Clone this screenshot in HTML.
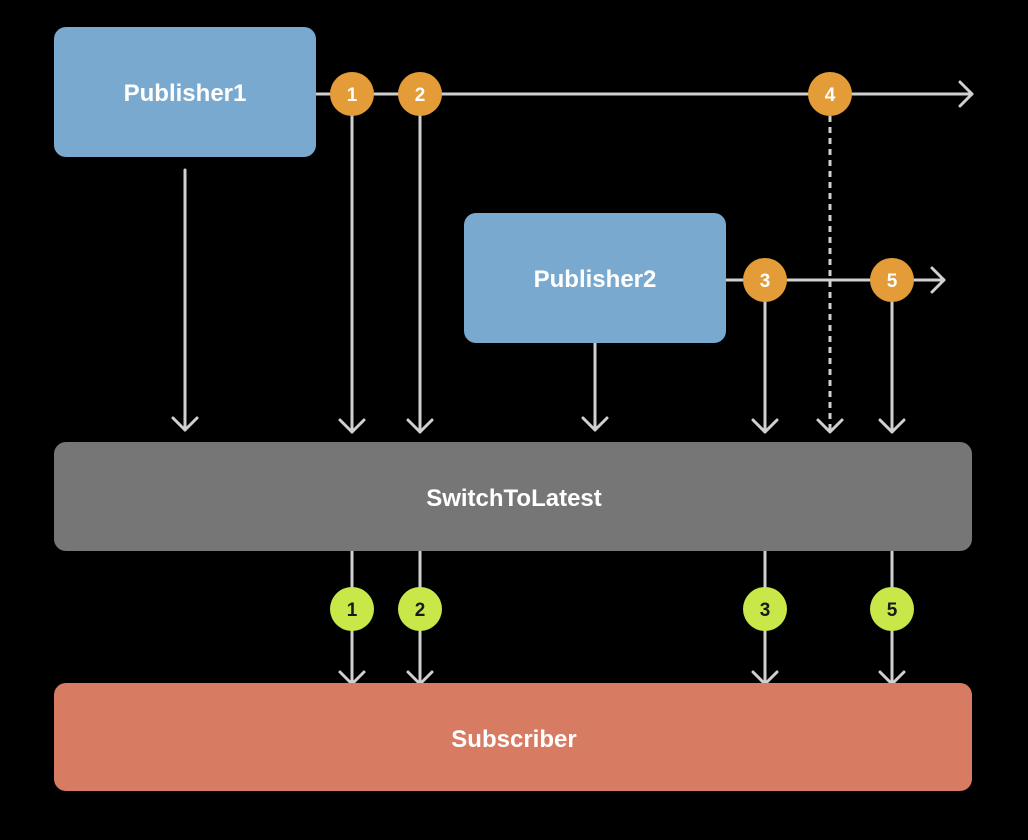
<!DOCTYPE html>
<html><head><style>body{margin:0;background:#000}svg{display:block}text{font-family:"Liberation Sans",sans-serif;font-weight:bold}</style></head>
<body>
<svg width="1028" height="840" viewBox="0 0 1028 840" xmlns="http://www.w3.org/2000/svg">
<rect width="1028" height="840" fill="#000"/>
<g stroke="#d0d0d0" stroke-width="3" fill="none" stroke-linecap="round" stroke-linejoin="round">
<line x1="316" y1="94" x2="972" y2="94"/><polyline points="960,82 972,94 960,106"/>
<line x1="726" y1="280" x2="944" y2="280"/><polyline points="932,268 944,280 932,292"/>
<line x1="185" y1="170" x2="185" y2="430"/><polyline points="173,418 185,430 197,418"/>
<line x1="352" y1="115" x2="352" y2="432"/><polyline points="340,420 352,432 364,420"/>
<line x1="420" y1="115" x2="420" y2="432"/><polyline points="408,420 420,432 432,420"/>
<line x1="595" y1="343" x2="595" y2="430"/><polyline points="583,418 595,430 607,418"/>
<line x1="765" y1="300" x2="765" y2="432"/><polyline points="753,420 765,432 777,420"/>
<line x1="830" y1="116" x2="830" y2="430" stroke-dasharray="6,5" stroke-linecap="butt"/><polyline points="818,420 830,432 842,420"/>
<line x1="892" y1="300" x2="892" y2="432"/><polyline points="880,420 892,432 904,420"/>
<line x1="352" y1="551" x2="352" y2="684"/><polyline points="340,672 352,684 364,672"/>
<line x1="420" y1="551" x2="420" y2="684"/><polyline points="408,672 420,684 432,672"/>
<line x1="765" y1="551" x2="765" y2="684"/><polyline points="753,672 765,684 777,672"/>
<line x1="892" y1="551" x2="892" y2="684"/><polyline points="880,672 892,684 904,672"/>
</g>
<rect x="54" y="27" width="262" height="130" rx="12" fill="#79a9cf"/>
<text x="185" y="101" fill="#fff" font-size="24" text-anchor="middle">Publisher1</text>
<rect x="464" y="213" width="262" height="130" rx="12" fill="#79a9cf"/>
<text x="595" y="287" fill="#fff" font-size="24" text-anchor="middle">Publisher2</text>
<rect x="54" y="442" width="918" height="109" rx="12" fill="#767676"/>
<text x="514" y="506" fill="#fff" font-size="24" text-anchor="middle">SwitchToLatest</text>
<rect x="54" y="683" width="918" height="108" rx="12" fill="#d87b63"/>
<text x="514" y="747" fill="#fff" font-size="24" text-anchor="middle">Subscriber</text>
<g fill="#e39c37" font-size="19">
<circle cx="352" cy="94" r="22"/><circle cx="420" cy="94" r="22"/><circle cx="830" cy="94" r="22"/>
<circle cx="765" cy="280" r="22"/><circle cx="892" cy="280" r="22"/>
</g>
<g fill="#fff" font-size="19" text-anchor="middle">
<text x="352" y="101">1</text><text x="420" y="101">2</text><text x="830" y="101">4</text>
<text x="765" y="287">3</text><text x="892" y="287">5</text>
</g>
<g fill="#c8e84a">
<circle cx="352" cy="609" r="22"/><circle cx="420" cy="609" r="22"/><circle cx="765" cy="609" r="22"/><circle cx="892" cy="609" r="22"/>
</g>
<g fill="#1a1a1a" font-size="19" text-anchor="middle">
<text x="352" y="616">1</text><text x="420" y="616">2</text><text x="765" y="616">3</text><text x="892" y="616">5</text>
</g>
</svg>
</body></html>
